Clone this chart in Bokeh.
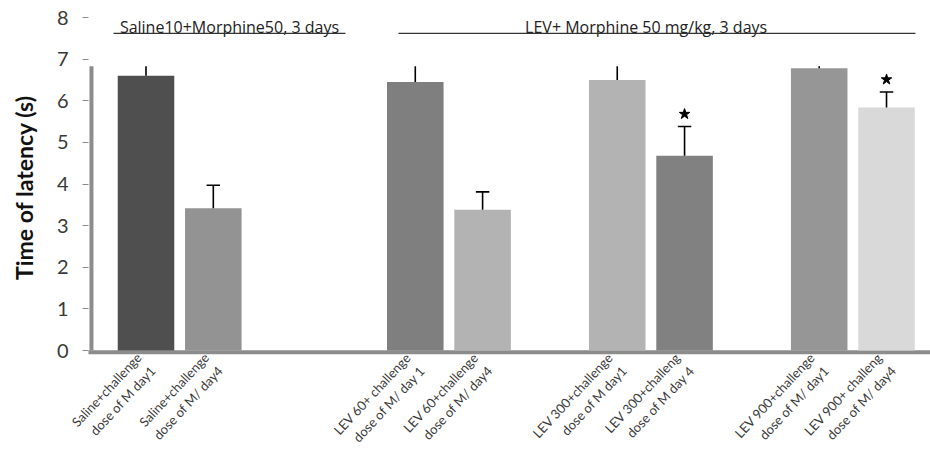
import math
from bokeh.plotting import figure
from bokeh.models import FixedTicker, Range1d
from bokeh.core.properties import value
from bokeh.embed import file_html
from bokeh.resources import INLINE

# ---------------- data ----------------
categories = [
    "Saline+challenge\ndose of M day1",
    "Saline+challenge\ndose of M/ day4",
    "LEV 60+ challenge\ndose of M/ day 1",
    "LEV 60+challenge\ndose of M/ day4",
    "LEV 300+challenge\ndose of M day1",
    "LEV 300+challeng\ndose of M day 4",
    "LEV 900+challenge\ndose of M/ day1",
    "LEV 900+ challeng\ndose of M/ day4",
]
latency = [6.60, 3.42, 6.45, 3.38, 6.50, 4.68, 6.78, 5.84]
sem = [0.30, 0.55, 0.45, 0.43, 0.40, 0.70, 0.10, 0.37]
significant = [False, False, False, False, False, True, False, True]
group_sizes = [2, 2, 2, 2]
gaps_before_group = [0, 2, 1, 1]
y_ticks = [0, 1, 2, 3, 4, 5, 6, 7, 8]
title_left = "Saline10+Morphine50, 3 days"
title_right = "LEV+ Morphine 50  mg/kg, 3 days"
y_title = "Time of latency (s)"

# ---------------- style ----------------
bar_colors = ["#4f4f4f", "#939393", "#7f7f7f", "#b3b3b3",
              "#b3b3b3", "#818181", "#969696", "#d9d9d9"]
FONT = "Lato"
CLIP = 6.83  # plot-area top of the original chart (error bars clipped there)

# slot positions from group layout
slots = []
pos = 0
for gs, gap in zip(group_sizes, gaps_before_group):
    pos += gap
    for _ in range(gs):
        slots.append(pos)
        pos += 1

W, H = 930, 469
PX = 67.32            # pixels per slot
X0 = 145.5            # pixel of slot 0
KY = (350 - 17) / 8   # pixels per y unit
FRAME_TOP, FRAME_BOTTOM = 16, 358

p = figure(width=W, height=H, output_backend="svg", toolbar_location=None,
           x_range=Range1d((88 - X0) / PX, (W - X0) / PX),
           y_range=Range1d(-(FRAME_BOTTOM - 350) / KY, 8 + (17 - FRAME_TOP) / KY),
           min_border_left=88, min_border_right=0, min_border_top=FRAME_TOP,
           min_border_bottom=H - FRAME_BOTTOM)
p.outline_line_color = None
p.xgrid.visible = False
p.ygrid.visible = False
p.background_fill_color = "white"

ya = p.yaxis[0]
ya.ticker = FixedTicker(ticks=y_ticks)
ya.axis_line_color = None
ya.major_tick_in = 0
ya.major_tick_out = 6
ya.major_tick_line_color = "#8c8c8c"
ya.minor_tick_line_color = None
ya.major_label_text_font = FONT
ya.major_label_text_font_size = "20px"
ya.major_label_text_color = "#3a3a3a"
ya.major_label_standoff = 14
ya.axis_label = y_title
ya.axis_label_text_font = FONT
ya.axis_label_text_font_style = "bold"
ya.axis_label_text_font_size = "23px"
ya.axis_label_text_color = "#111111"
ya.axis_label_standoff = 16

xa = p.xaxis[0]
xa.ticker = FixedTicker(ticks=slots)
xa.major_label_overrides = {s: c for s, c in zip(slots, categories)}
xa.major_label_orientation = math.radians(47)
xa.axis_line_color = None
xa.major_tick_line_color = None
xa.minor_tick_line_color = None
xa.major_tick_in = 0
xa.major_tick_out = 0
xa.major_label_standoff = 3
xa.major_label_text_font = FONT
xa.major_label_text_font_size = "13px"
xa.major_label_text_color = "#3a3a3a"

# wall and floor
p.segment(x0=[-0.81], y0=[0], x1=[-0.81], y1=[CLIP], line_color="#8c8c8c", line_width=4)
p.segment(x0=[-0.9], y0=[-0.045], x1=[11.8], y1=[-0.045], line_color="#8c8c8c", line_width=4)

# bars
p.vbar(x=slots, top=latency, bottom=0, width=0.84, fill_color=bar_colors, line_color=None)

# error bars
tops = [m + e for m, e in zip(latency, sem)]
stem_top = [min(t, CLIP) for t in tops]
p.segment(x0=slots, y0=latency, x1=slots, y1=stem_top, line_color="black", line_width=1.6)
cap_x = [s for s, t in zip(slots, tops) if t < CLIP]
cap_y = [t for t in tops if t < CLIP]
p.segment(x0=[x - 0.1 for x in cap_x], y0=cap_y, x1=[x + 0.1 for x in cap_x], y1=cap_y,
          line_color="black", line_width=1.6)

# significance stars
sx = [s for s, f in zip(slots, significant) if f]
sy = [t + 0.3 for t, f in zip(tops, significant) if f]
p.scatter(x=sx, y=sy, marker="star", size=11, fill_color="black", line_color="black")

# group headers
p.text(x=[1.24], y=[7.78], text=[title_left], text_font=value("Open Sans"), text_font_size="16px",
       text_align="center", text_baseline="middle", text_color="#222222")
p.segment(x0=[-0.483], y0=[7.62], x1=[2.963], y1=[7.62], line_color="#333333", line_width=1.3)
p.text(x=[7.46], y=[7.78], text=[title_right], text_font=value("Open Sans"), text_font_size="16px",
       text_align="center", text_baseline="middle", text_color="#222222")
p.segment(x0=[3.75], y0=[7.62], x1=[11.43], y1=[7.62], line_color="#333333", line_width=1.3)

open("out.html", "w").write(file_html(p, INLINE))
